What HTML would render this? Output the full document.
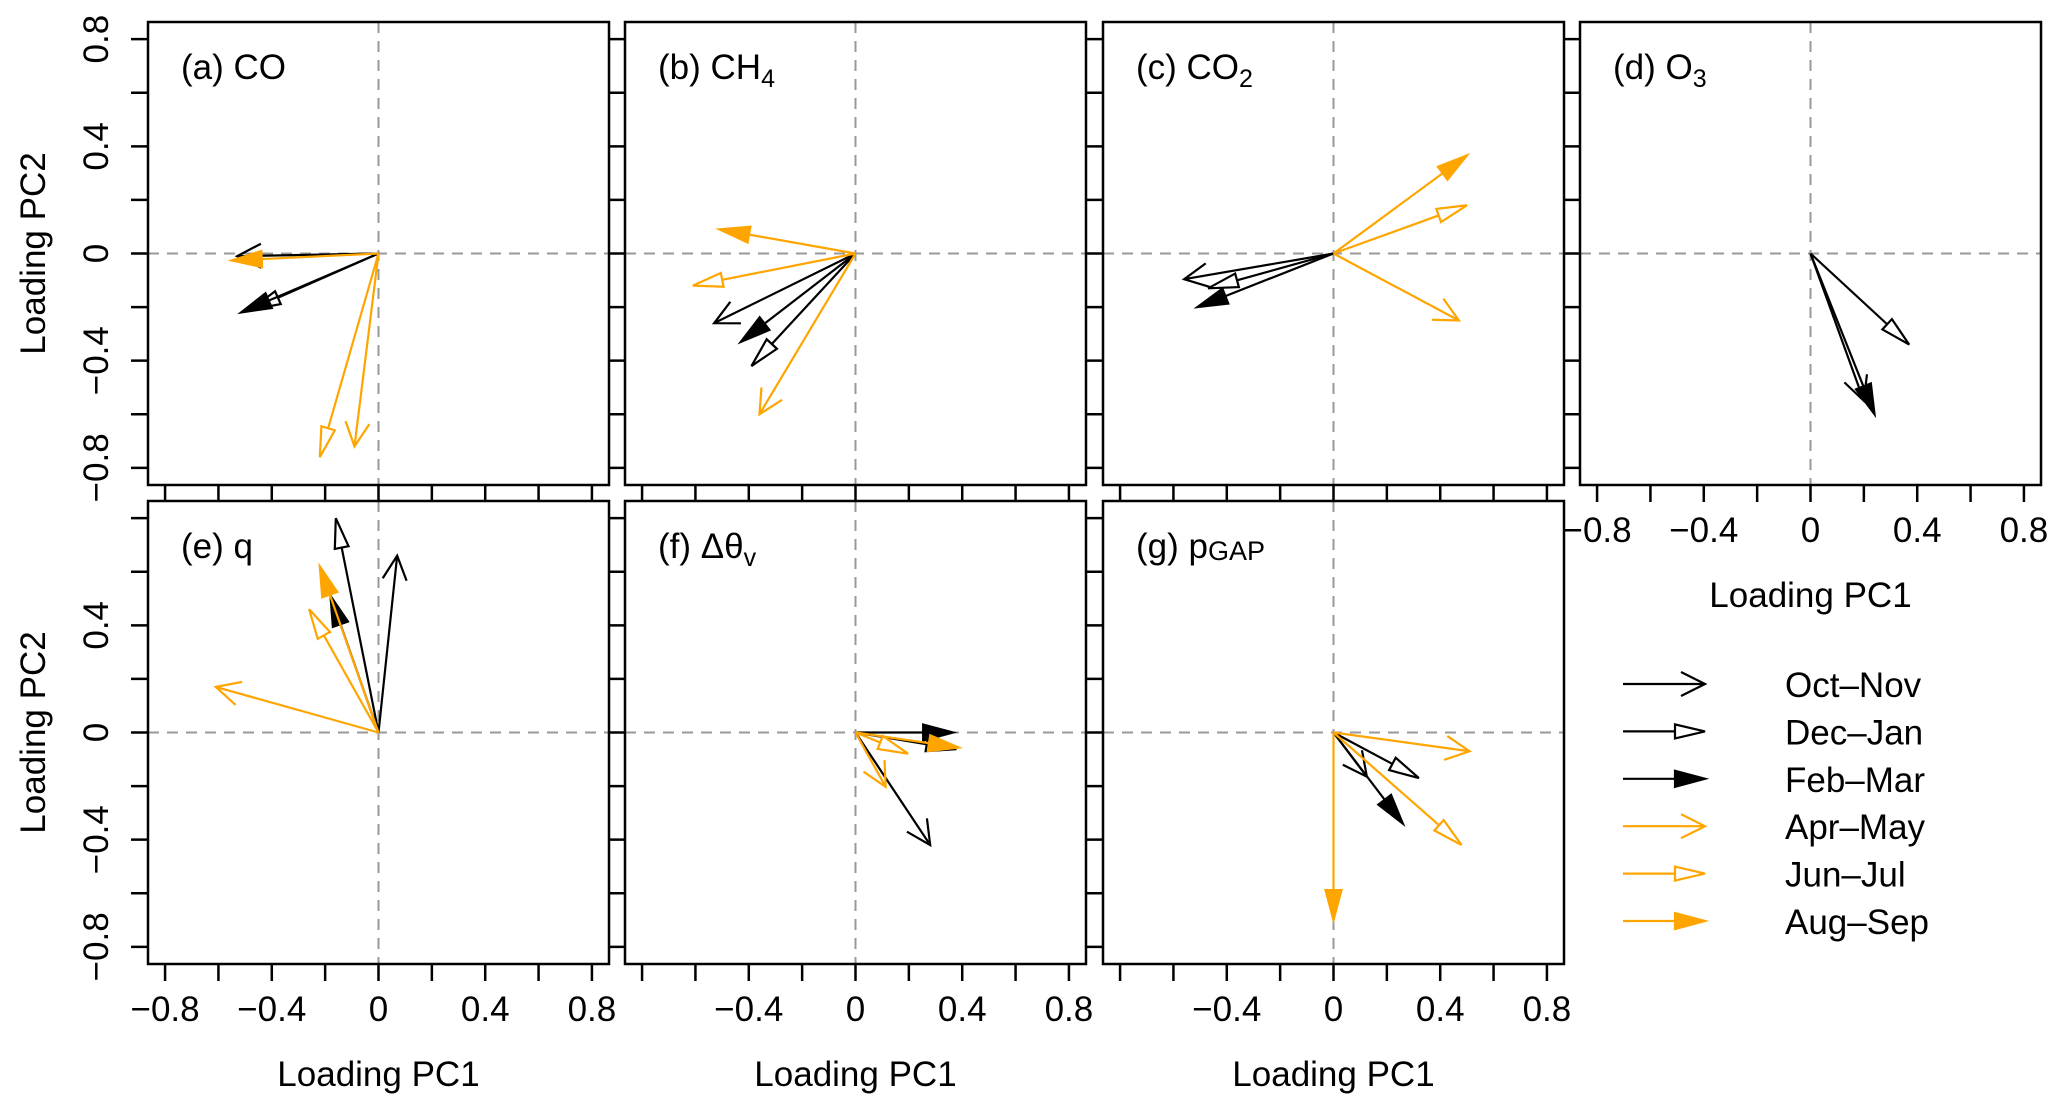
<!DOCTYPE html>
<html><head><meta charset="utf-8">
<style>
html,body{margin:0;padding:0;background:#fff;}
svg{display:block;}
text{font-family:"Liberation Sans",Arial,sans-serif;fill:#000;}
</style></head>
<body>
<svg id="chart" width="2067" height="1111" viewBox="0 0 2067 1111" xmlns="http://www.w3.org/2000/svg">
<g id="panels"></g>
<g id="legend"></g>
</svg>
<script>
// ---- data (PC1, PC2 loadings) ----
const seasons = ["Oct\u2013Nov","Dec\u2013Jan","Feb\u2013Mar","Apr\u2013May","Jun\u2013Jul","Aug\u2013Sep"];
const panelIds = ["co","ch4","co2","o3","q","dthetav","pgap"];
const coPC1 = [-0.53,-0.48,-0.515,-0.09,-0.22,-0.55];
const coPC2 = [-0.01,-0.21,-0.22,-0.72,-0.76,-0.026];
const ch4PC1 = [-0.53,-0.39,-0.43,-0.36,-0.61,-0.51];
const ch4PC2 = [-0.26,-0.42,-0.33,-0.60,-0.12,0.09];
const co2PC1 = [-0.56,-0.47,-0.51,0.47,0.50,0.50];
const co2PC2 = [-0.096,-0.13,-0.20,-0.25,0.18,0.366];
const o3PC1 = [0.20,0.37,0.24,null,null,null];
const o3PC2 = [-0.55,-0.34,-0.60,null,null,null];
const qPC1 = [0.07,-0.16,-0.18,-0.61,-0.26,-0.22];
const qPC2 = [0.66,0.80,0.51,0.17,0.46,0.62];
const dthPC1 = [0.28,0.378,0.366,0.113,0.197,0.387];
const dthPC2 = [-0.42,-0.062,0.0,-0.203,-0.079,-0.056];
const pgapPC1 = [0.125,0.32,0.26,0.51,0.48,0.0];
const pgapPC2 = [-0.165,-0.17,-0.34,-0.07,-0.42,-0.70];
const tickValues = [-0.8,-0.6,-0.4,-0.2,0,0.2,0.4,0.6,0.8];
const tickLabels = ["\u22120.8","\u22120.4","0","0.4","0.8"];
const tickLabelValues = [-0.8,-0.4,0,0.4,0.8];

const NS="http://www.w3.org/2000/svg";
function mk(tag,attrs,parent){const e=document.createElementNS(NS,tag);for(const k in attrs)e.setAttribute(k,attrs[k]);if(parent)parent.appendChild(e);return e;}

const LIM=0.864, W=461, H=463;
const panels=[
 {id:"co",left:148,top:22,x:coPC1,y:coPC2,label:["(a) CO",""],yl:true,xl:null},
 {id:"ch4",left:625,top:22,x:ch4PC1,y:ch4PC2,label:["(b) CH","4"],yl:false,xl:null},
 {id:"co2",left:1103,top:22,x:co2PC1,y:co2PC2,label:["(c) CO","2"],yl:false,xl:null},
 {id:"o3",left:1580,top:22,x:o3PC1,y:o3PC2,label:["(d) O","3"],yl:false,xl:[0,1,2,3,4]},
 {id:"q",left:148,top:501,x:qPC1,y:qPC2,label:["(e) q",""],yl:true,xl:[0,1,2,3,4],ylSkipTop:true},
 {id:"dthetav",left:625,top:501,x:dthPC1,y:dthPC2,label:["(f) \u0394\u03b8","v"],yl:false,xl:[1,2,3,4]},
 {id:"pgap",left:1103,top:501,x:pgapPC1,y:pgapPC2,label:["(g) p","GAP"],yl:false,xl:[1,2,3,4],bigSub:true}
];
const colors=["#000","#000","#000","#FFA500","#FFA500","#FFA500"];
const heads=["open","hollow","filled","open","hollow","filled"];

function drawArrow(g,x0,y0,x1,y1,color,head){
  const dx=x1-x0,dy=y1-y0,L=Math.hypot(dx,dy);if(L<1)return;
  const ux=dx/L,uy=dy/L,px=-uy,py=ux;
  if(head==="open"){
    const a=mk("line",{x1:x0,y1:y0,x2:x1,y2:y1,stroke:color,"stroke-width":2.2},g);
    
    
    const hl=24,hw=12;
    const p=mk("polyline",{points:`${x1-ux*hl+px*hw},${y1-uy*hl+py*hw} ${x1},${y1} ${x1-ux*hl-px*hw},${y1-uy*hl-py*hw}`,fill:"none",stroke:color,"stroke-width":2.2},g);
    
    
  } else {
    const hl=30,hw=head==="filled"?8:7;
    const bx=x1-ux*hl,by=y1-uy*hl;
    const a=mk("line",{x1:x0,y1:y0,x2:bx,y2:by,stroke:color,"stroke-width":2.2},g);
    
    
    const p=mk("polygon",{points:`${bx+px*hw},${by+py*hw} ${x1},${y1} ${bx-px*hw},${by-py*hw}`,fill:head==="filled"?color:"#fff",stroke:color,"stroke-width":2.2,"stroke-linejoin":"miter"},g);
    
    
  }
}

const root=document.getElementById("panels");
panels.forEach(P=>{
  const g=mk("g",{},root);
  
  
  const sx=v=>P.left+(v+LIM)/(2*LIM)*W;
  const sy=v=>P.top+(LIM-v)/(2*LIM)*H;
  // zero lines
  const zv=mk("line",{x1:sx(0),y1:P.top,x2:sx(0),y2:P.top+H,stroke:"#999","stroke-width":2,"stroke-dasharray":"11,8"},g);
  
  
  const zh=mk("line",{x1:P.left,y1:sy(0),x2:P.left+W,y2:sy(0),stroke:"#999","stroke-width":2,"stroke-dasharray":"11,8"},g);
  
  
  // ticks
  tickValues.forEach(t=>{
    const a=mk("line",{x1:sx(t),y1:P.top+H,x2:sx(t),y2:P.top+H+17,stroke:"#000","stroke-width":2.5},g);
    
    
    const b=mk("line",{x1:P.left,y1:sy(t),x2:P.left-17,y2:sy(t),stroke:"#000","stroke-width":2.5},g);
    
    
  });
  if(P.xl){
    P.xl.forEach(i=>{
      const t=mk("text",{x:sx(tickLabelValues[i]),y:P.top+H+57,"font-size":35,"text-anchor":"middle"},g);
      t.textContent=tickLabels[i];
      
      
    });
    const xt=mk("text",{x:sx(0),y:P.top+H+122,"font-size":35,"text-anchor":"middle"},g);
    xt.textContent="Loading PC1";
    
    
  }
  if(P.yl){
    tickLabelValues.forEach((v,i)=>{
      if(P.ylSkipTop&&i===4)return;
      const t=mk("text",{transform:`translate(108,${sy(v)}) rotate(-90)`,"font-size":35,"text-anchor":"middle"},g);
      t.textContent=tickLabels[i];
      
      
    });
    const yt=mk("text",{transform:`translate(45,${sy(0)}) rotate(-90)`,"font-size":35,"text-anchor":"middle"},g);
    yt.textContent="Loading PC2";
    
    
  }
  // label
  const lab=mk("text",{x:P.left+33,y:P.top+57,"font-size":35},g);
  
  
  lab.appendChild(document.createTextNode(P.label[0]));
  if(P.label[1]){
    const ts=mk("tspan",{"font-size":P.bigSub?27:25,dy:P.bigSub?2:8},lab);
    ts.textContent=P.label[1];
  }
  // arrows
  const ag=mk("g",{},g);
  
  
  for(let i=0;i<6;i++){
    if(P.x[i]==null)continue;
    drawArrow(ag,sx(0),sy(0),sx(P.x[i]),sy(P.y[i]),colors[i],heads[i]);
  }
  // box
  const box=mk("rect",{x:P.left,y:P.top,width:W,height:H,fill:"none",stroke:"#000","stroke-width":2.5},g);
  
  
});

// legend
const lg=document.getElementById("legend");
seasons.forEach((s,i)=>{
  const y=684+i*47.4;
  const e=mk("g",{},lg);
  
  
  drawArrow(e,1623,y,1705,y,colors[i],heads[i]);
  const t=mk("text",{x:1785,y:y+13,"font-size":35},e);
  t.textContent=s;
  
  
});
</script>
</body></html>
